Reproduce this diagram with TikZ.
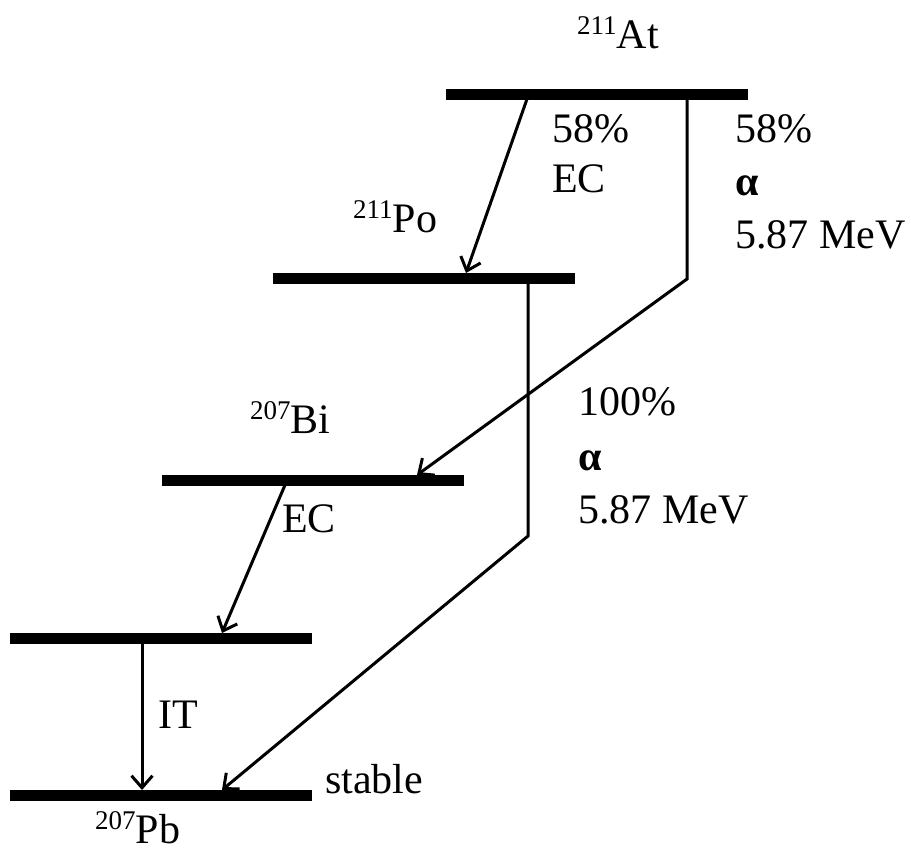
\documentclass[tikz,border=0pt]{standalone}
\usepackage{fontspec}
\setmainfont{Liberation Serif}
\usetikzlibrary{arrows.meta}
\newcommand{\isotope}[2]{{\fontsize{27}{27}\selectfont\raisebox{14pt}{#1}}#2}
\begin{document}
\begin{tikzpicture}[x=1pt,y=-1pt,
  level/.style={fill=black, inner sep=0pt, minimum height=11pt, minimum width=302pt, anchor=west},
  conn/.style={line width=3pt, line join=miter, -{Straight Barb[length=12pt,width=21pt,line width=3pt]}},
  lbl/.style={font=\fontsize{42}{46}\selectfont, inner sep=0pt, anchor=base west}]
\useasboundingbox (0,0) rectangle (911,852);
% levels
\node[level] (at) at (446,94) {};
\node[level] (po) at (273,278) {};
\node[level] (bi) at (162,480) {};
\node[level] (pbm) at (10,638) {};
\node[level] (pb) at (10,795) {};
% connector points
\coordinate (at1) at (527,99);
\coordinate (po1) at (466,273);
\coordinate (at2) at (687,99);
\coordinate (at2k) at (687,279);
\coordinate (bi1) at (417,475);
\coordinate (po2) at (528,283);
\coordinate (po2k) at (528,536);
\coordinate (pb2) at (222,790);
\coordinate (bi2) at (285,485);
\coordinate (pbm1) at (222,633);
\coordinate (pbm2) at (142,643);
\coordinate (pb1) at (142,790);
% connectors
\draw[conn] (at1) -- (po1);
\draw[conn] (at2) -- (at2k) -- (bi1);
\draw[conn] (po2) -- (po2k) -- (pb2);
\draw[conn] (bi2) -- (pbm1);
\draw[conn] (pbm2) -- (pb1);
% labels
\node[lbl] (lat) at (577,48) {\isotope{211}{At}};
\node[lbl] (lpo) at (353,232) {\isotope{211}{Po}};
\node[lbl] (lbi) at (250,433) {\isotope{207}{Bi}};
\node[lbl] (lpb) at (95,843) {\isotope{207}{Pb}};
\node[lbl] (p1) at (552,142) {58\%};
\node[lbl] (ec1) at (552,192) {EC};
\node[lbl] (p2) at (735,142) {58\%};
\node[lbl] (a2) at (735,195) {\bfseries α};
\node[lbl] (e2) at (735,248) {5.87 MeV};
\node[lbl] (p3) at (578,415) {100\%};
\node[lbl] (a3) at (578,470) {\bfseries α};
\node[lbl] (e3) at (578,523) {5.87 MeV};
\node[lbl] (ec2) at (282,532) {EC};
\node[lbl] (it) at (158,728) {IT};
\node[lbl] (st) at (325,793) {stable};
\end{tikzpicture}
\end{document}
